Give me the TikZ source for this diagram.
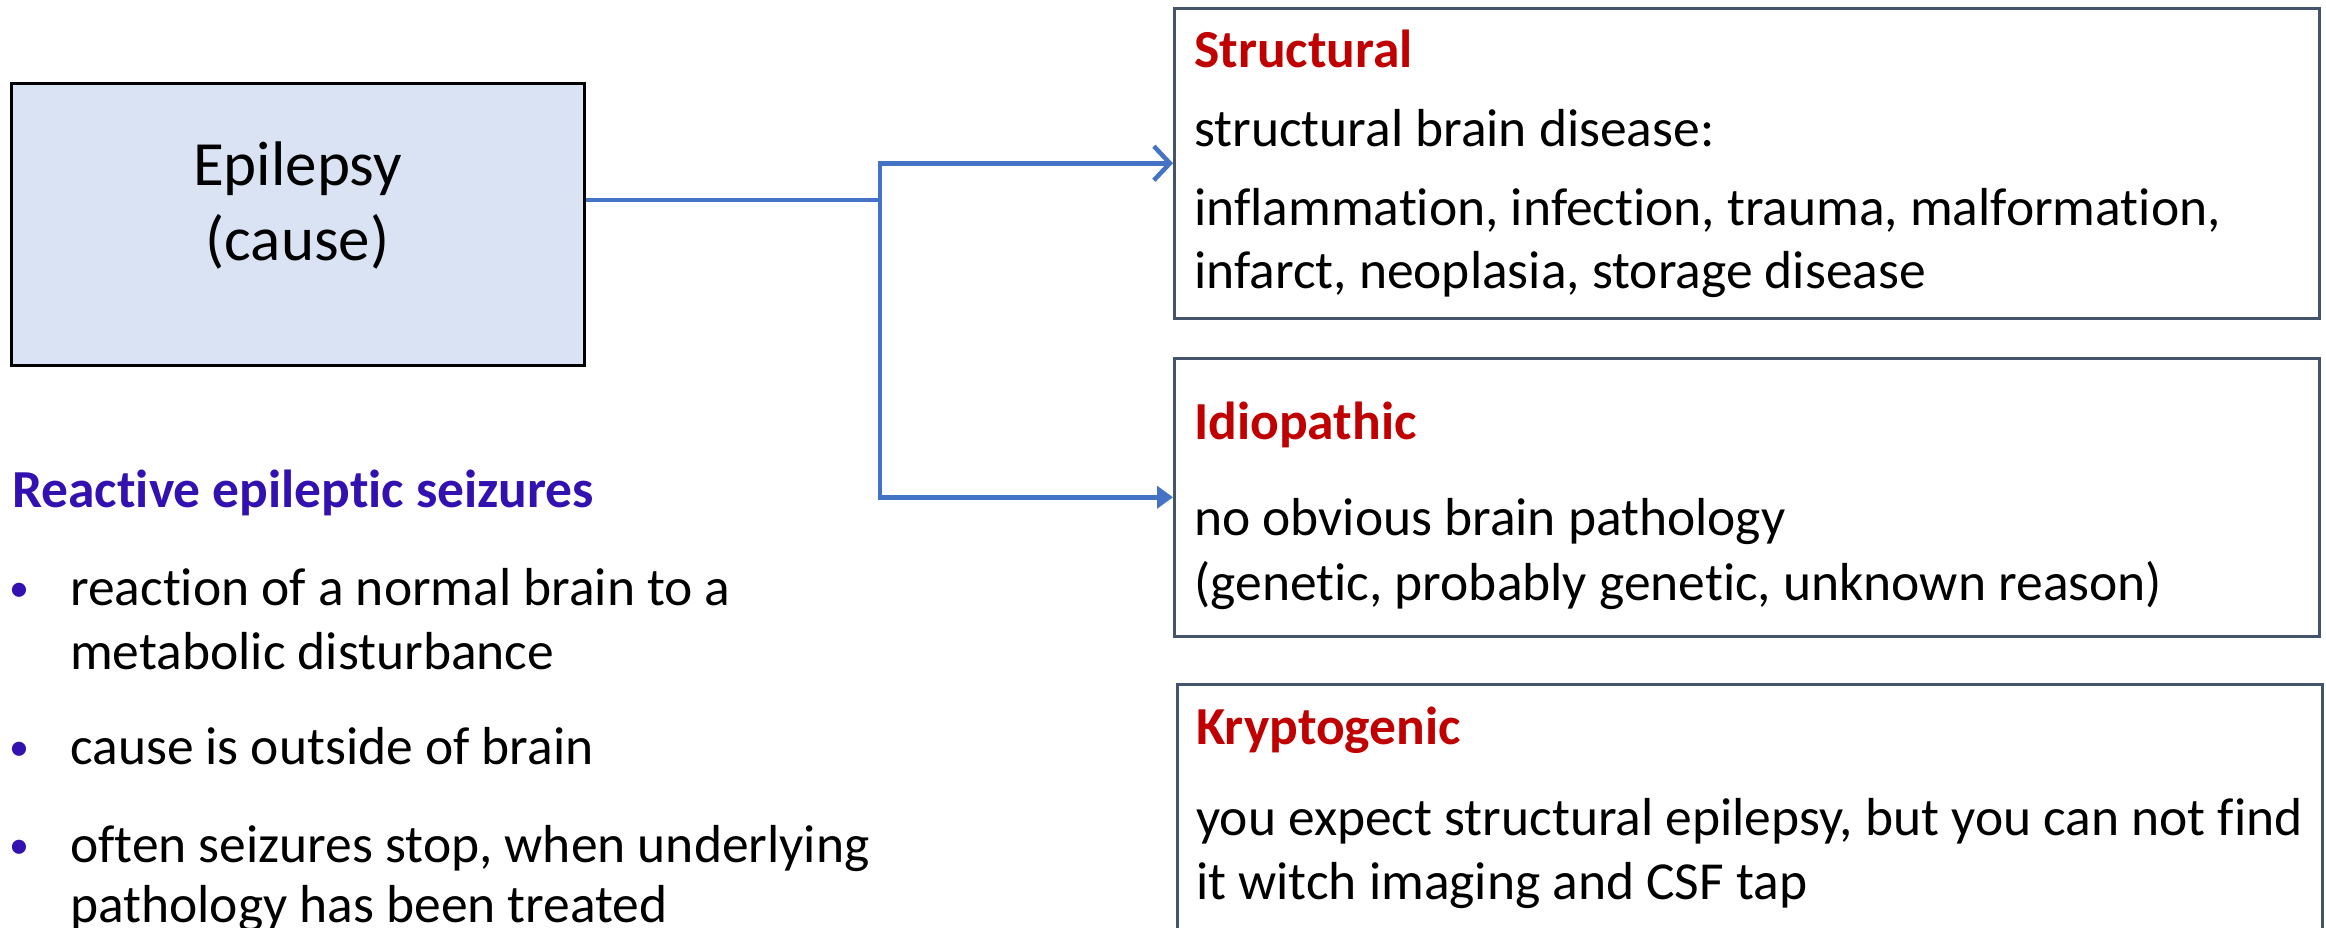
\documentclass[tikz,border=0pt]{standalone}
\usepackage{fontspec}
\setmainfont{Carlito}[Ligatures={NoCommon}]
\usepackage{xcolor}
\usepackage{tikz}
\usetikzlibrary{arrows.meta,positioning}

\definecolor{epifill}{HTML}{DAE3F3}
\definecolor{boxline}{HTML}{44546A}
\definecolor{linkblue}{HTML}{4472C4}
\definecolor{headred}{HTML}{C00000}
\definecolor{headblue}{HTML}{3311B0}

\begin{document}
\begin{tikzpicture}[x=1pt,y=-1pt,
    every node/.style={font=\fontsize{53.5}{64}\selectfont},
    causebox/.style={draw=boxline,line width=2.5pt,minimum width=1145pt,inner sep=0pt,anchor=north west},
    txt/.style={anchor=base west,inner sep=0pt},
    headtxt/.style={txt,text=headred,font=\fontsize{53.5}{64}\selectfont\bfseries},
    dot/.style={anchor=base,inner sep=0pt,text=headblue,font=\fontsize{40}{48}\selectfont},
    conn/.style={draw=linkblue,line width=4.5pt}]
    \useasboundingbox (0,0) rectangle (2326,927);

    % Main box
    \node[draw=black,fill=epifill,line width=3pt,minimum width=573pt,minimum height=282pt] (epi) at (297.5,224) {};
    \node[align=center,inner sep=0pt,font=\fontsize{63}{75}\selectfont] (epitxt) at (297.5,205) {Epilepsy\\(cause)};

    % Cause boxes
    \node[causebox,minimum height=310pt] (struct) at (1173,7) {};
    \node[causebox,minimum height=278pt] (idio) at (1173,357) {};
    \node[causebox,minimum height=300pt] (krypto) at (1176,683) {};

    % Connectors
    \coordinate (fork) at (880,200);
    \draw[conn] (epi.east |- fork) -- (fork);
    \draw[conn,-{Straight Barb[length=16pt,width=34pt]}] (fork) |- (struct.west);
    \draw[conn,-{Triangle[length=16pt,width=22pt]}] (fork) |- (idio.west);

    % Structural
    \node[headtxt] (sh) at (1194,67) {Structural};
    \node[txt] (s1) at (1194,146) {structural brain disease:};
    \node[txt] (s2) at (1194,225) {inflammation, infection, trauma, malformation,};
    \node[txt] (s3) at (1194,288) {infarct, neoplasia, storage disease};

    % Idiopathic
    \node[headtxt] (ih) at (1194,439) {Idiopathic};
    \node[txt] (i1) at (1194,535) {no obvious brain pathology};
    \node[txt] (i2) at (1194,600) {(genetic, probably genetic, unknown reason)};

    % Kryptogenic
    \node[headtxt] (kh) at (1196,744) {Kryptogenic};
    \node[txt] (k1) at (1196,835) {you expect structural epilepsy, but you can not find};
    \node[txt] (k2) at (1196,899) {it witch imaging and CSF tap};

    % Reactive seizures
    \node[txt,text=headblue,font=\fontsize{53.5}{64}\selectfont\bfseries] (rh) at (12,507) {Reactive epileptic seizures};
    \node[dot] (b1) at (19,601) {\textbullet};
    \node[txt] (r1) at (70,605) {reaction of a normal brain to a};
    \node[txt] (r2) at (70,669) {metabolic disturbance};
    \node[dot] (b2) at (19,760) {\textbullet};
    \node[txt] (r3) at (70,764) {cause is outside of brain};
    \node[dot] (b3) at (19,858) {\textbullet};
    \node[txt] (r4) at (70,862) {often seizures stop, when underlying};
    \node[txt] (r5) at (70,922) {pathology has been treated};
\end{tikzpicture}
\end{document}
